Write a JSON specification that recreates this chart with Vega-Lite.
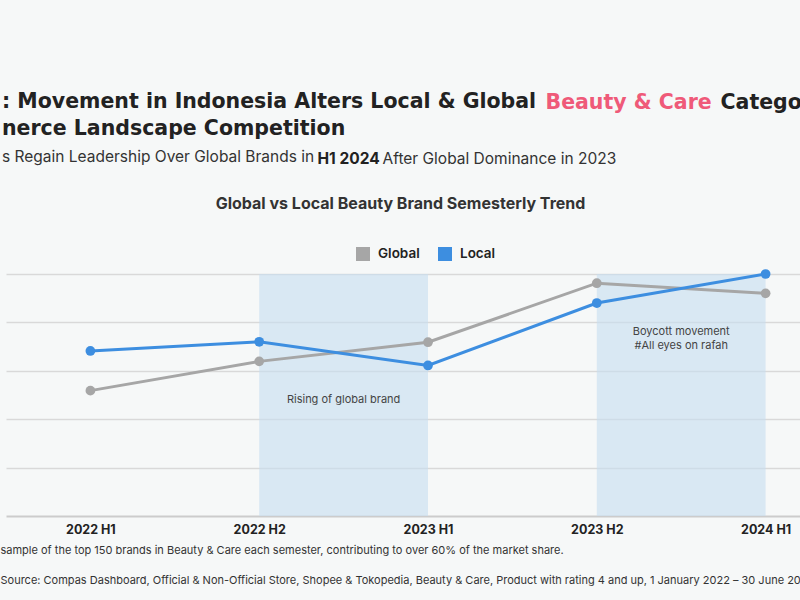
{
  "$schema": "https://vega.github.io/schema/vega-lite/v6.json",
  "width": 844,
  "height": 242,
  "autosize": {"type": "none"},
  "padding": {"left": 6, "top": 274, "right": -50, "bottom": 84},
  "background": "#f6f8f8",
  "config": {"view": {"stroke": null}, "font": "Inter"},
  "title": {
    "text": [": Movement in Indonesia Alters Local & Global", "nerce Landscape Competition"],
    "subtitle": "s Regain Leadership Over Global Brands in",
    "anchor": "start",
    "frame": "group",
    "orient": "top",
    "font": "DejaVu Sans",
    "fontSize": 20.5,
    "fontWeight": 700,
    "color": "#222222",
    "lineHeight": 27,
    "subtitleFont": "Inter",
    "subtitleFontSize": 15.5,
    "subtitleFontWeight": 400,
    "subtitleColor": "#333333",
    "subtitlePadding": 10,
    "offset": 0,
    "dx": -4,
    "dy": 73
  },
  "datasets": {
    "shares": [
      {"period": "2022 H1", "brand": "Global", "share": 25.9},
      {"period": "2022 H2", "brand": "Global", "share": 31.95},
      {"period": "2023 H1", "brand": "Global", "share": 35.9},
      {"period": "2023 H2", "brand": "Global", "share": 48.1},
      {"period": "2024 H1", "brand": "Global", "share": 46.0},
      {"period": "2022 H1", "brand": "Local", "share": 34.1},
      {"period": "2022 H2", "brand": "Local", "share": 36.0},
      {"period": "2023 H1", "brand": "Local", "share": 31.1},
      {"period": "2023 H2", "brand": "Local", "share": 44.0},
      {"period": "2024 H1", "brand": "Local", "share": 50.0}
    ],
    "periods": [
      {"start": "2022 H2", "end": "2023 H1", "label": "Rising of global brand"},
      {"start": "2023 H2", "end": "2024 H1", "label": "Boycott movement\n#All eyes on rafah"}
    ]
  },
  "layer": [
    {
      "data": {"name": "periods"},
      "mark": {"type": "rect", "color": "#c6def0", "opacity": 0.6},
      "encoding": {
        "x": {"field": "start", "type": "nominal",
              "scale": {"type": "point", "domain": ["2022 H1", "2022 H2", "2023 H1", "2023 H2", "2024 H1"], "padding": 0.5},
              "axis": {"orient": "top", "labels": false, "ticks": false, "domain": false, "grid": false,
                       "title": "Catego", "titleFont": "DejaVu Sans", "titleFontSize": 20.5, "titleFontWeight": 700, "titleColor": "#222222",
                       "titleAlign": "left", "titleBaseline": "alphabetic", "titleX": 714, "titleY": -166}},
        "x2": {"field": "end"},
        "y": {"datum": 50, "type": "quantitative", "scale": {"domain": [0, 50], "nice": false},
              "axis": {"orient": "left", "labels": false, "ticks": false, "domain": false, "grid": false,
                       "title": "After Global Dominance in 2023", "titleFont": "Inter", "titleFontSize": 15.5, "titleFontWeight": 400, "titleColor": "#333333",
                       "titleAngle": 0, "titleAlign": "left", "titleBaseline": "alphabetic", "titleX": 376, "titleY": -111}},
        "y2": {"datum": 0}
      }
    },
    {
      "data": {"name": "periods"},
      "transform": [{"filter": "datum.start == '2022 H2'"}],
      "mark": {"type": "text", "dx": 84.4, "fontSize": 11, "color": "#444444", "font": "Inter", "baseline": "middle", "align": "center"},
      "encoding": {
        "x": {"field": "start", "type": "nominal", "axis": null,
              "scale": {"type": "point", "domain": ["2022 H1", "2022 H2", "2023 H1", "2023 H2", "2024 H1"], "padding": 0.5}},
        "y": {"datum": 24, "type": "quantitative", "axis": null, "scale": {"domain": [0, 50], "nice": false}},
        "text": {"field": "label"}
      }
    },
    {
      "data": {"name": "periods"},
      "transform": [{"filter": "datum.start == '2023 H2'"}],
      "mark": {"type": "text", "dx": 84.4, "fontSize": 11, "color": "#444444", "font": "Inter", "baseline": "middle", "align": "center", "lineBreak": "\n", "lineHeight": 13.5},
      "encoding": {
        "x": {"field": "start", "type": "nominal", "axis": null,
              "scale": {"type": "point", "domain": ["2022 H1", "2022 H2", "2023 H1", "2023 H2", "2024 H1"], "padding": 0.5}},
        "y": {"datum": 38, "type": "quantitative", "axis": null, "scale": {"domain": [0, 50], "nice": false}},
        "text": {"field": "label"}
      }
    },
    {
      "data": {"name": "shares"},
      "mark": {"type": "line", "strokeWidth": 3},
      "encoding": {
        "x": {"field": "period", "type": "nominal", "sort": null,
              "scale": {"type": "point", "domain": ["2022 H1", "2022 H2", "2023 H1", "2023 H2", "2024 H1"], "padding": 0.5},
              "axis": {"orient": "bottom", "labelAngle": 0, "labelFont": "Inter", "labelFontSize": 12.5, "labelFontWeight": 700, "labelColor": "#222222",
                       "labelPadding": 7, "ticks": false, "tickSize": 0, "domain": true, "domainColor": "#cccccc", "domainWidth": 2, "grid": false,
                       "title": ["sample of the top 150 brands in Beauty & Care each semester, contributing to over 60% of the market share.", "Source: Compas Dashboard, Official & Non-Official Store, Shopee & Tokopedia, Beauty & Care, Product with rating 4 and up, 1 January 2022 – 30 June 2024"],
                       "titleFont": "Inter", "titleFontSize": 11, "titleFontWeight": 400, "titleColor": "#333333", "titleAlign": "left", "titleBaseline": "alphabetic",
                       "titleX": -6, "titleY": 37, "titleLineHeight": 30}},
        "y": {"field": "share", "type": "quantitative", "scale": {"domain": [0, 50], "nice": false},
              "axis": {"orient": "left", "values": [10, 20, 30, 40, 50], "labels": false, "ticks": false, "domain": false, "grid": true, "gridColor": "#d9d9d9", "gridWidth": 1.5,
                       "title": "Global vs Local Beauty Brand Semesterly Trend", "titleFont": "Inter", "titleFontSize": 16, "titleFontWeight": 700, "titleColor": "#333333",
                       "titleAngle": 0, "titleAlign": "center", "titleBaseline": "alphabetic", "titleX": 394, "titleY": -66}},
        "color": {"field": "brand", "type": "nominal",
                  "scale": {"domain": ["Global", "Local"], "range": ["#a6a6a6", "#3d8ee0"]},
                  "legend": {"orient": "none", "legendX": 350, "legendY": -27, "direction": "horizontal", "title": null,
                             "symbolType": "square", "symbolSize": 196,
                             "labelFont": "Inter", "labelFontSize": 13.5, "labelFontWeight": 600, "labelColor": "#222222",
                             "labelOffset": 8, "columnPadding": 18,
                             "encode": {"symbols": {"update": {"fill": {"scale": "color", "field": "value"}, "strokeWidth": {"value": 0}}}}}}
      }
    },
    {
      "data": {"name": "shares"},
      "mark": {"type": "point", "filled": true, "size": 95, "opacity": 1},
      "encoding": {
        "x": {"field": "period", "type": "nominal", "sort": null,
              "scale": {"type": "point", "domain": ["2022 H1", "2022 H2", "2023 H1", "2023 H2", "2024 H1"], "padding": 0.5},
              "axis": {"orient": "top", "labels": false, "ticks": false, "domain": false, "grid": false,
                       "title": "Beauty & Care", "titleFont": "DejaVu Sans", "titleFontSize": 20.5, "titleFontWeight": 700, "titleColor": "#ef5a79",
                       "titleAlign": "left", "titleBaseline": "alphabetic", "titleX": 539, "titleY": -166}},
        "y": {"field": "share", "type": "quantitative", "scale": {"domain": [0, 50], "nice": false},
              "axis": {"orient": "right", "labels": false, "ticks": false, "domain": false, "grid": false,
                       "title": "H1 2024", "titleFont": "Inter", "titleFontSize": 15.5, "titleFontWeight": 700, "titleColor": "#222222",
                       "titleAngle": 0, "titleAlign": "left", "titleBaseline": "alphabetic", "titleX": -533, "titleY": -111}},
        "color": {"field": "brand", "type": "nominal",
                  "scale": {"domain": ["Global", "Local"], "range": ["#a6a6a6", "#3d8ee0"]},
                  "legend": {"orient": "none", "legendX": 350, "legendY": -27, "direction": "horizontal", "title": null,
                             "symbolType": "square", "symbolSize": 196,
                             "labelFont": "Inter", "labelFontSize": 13.5, "labelFontWeight": 600, "labelColor": "#222222",
                             "labelOffset": 8, "columnPadding": 18,
                             "encode": {"symbols": {"update": {"fill": {"scale": "color", "field": "value"}, "strokeWidth": {"value": 0}}}}}}
      }
    }
  ],
  "resolve": {"axis": {"x": "independent", "y": "independent"}}
}
